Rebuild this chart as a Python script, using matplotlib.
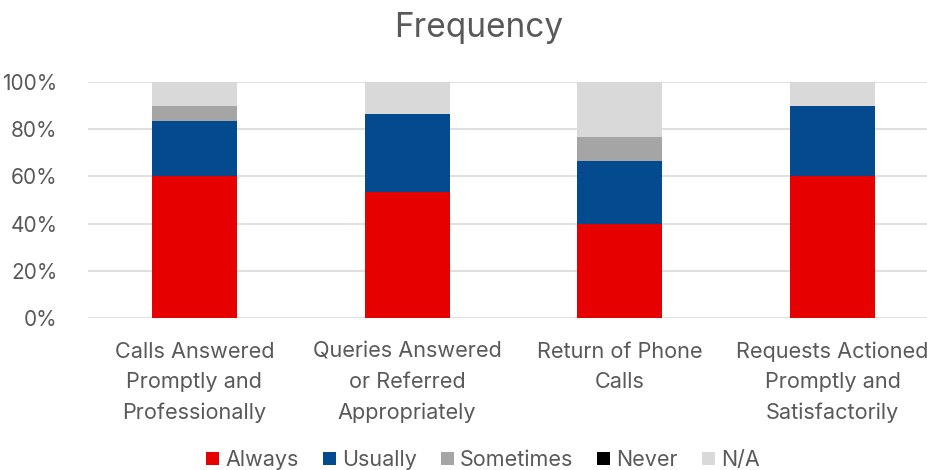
import numpy as np
import matplotlib.pyplot as plt
from matplotlib.ticker import PercentFormatter

plt.rcParams['font.family'] = ['Inter', 'DejaVu Sans']

categories = ["Calls Answered\nPromptly and\nProfessionally",
              "Queries Answered\nor Referred\nAppropriately",
              "Return of Phone\nCalls",
              "Requests Actioned\nPromptly and\nSatisfactorily"]
always = [60.0, 53.3, 40.0, 60.0]
usually = [23.3, 33.3, 26.7, 30.0]
sometimes = [6.7, 0.0, 10.0, 0.0]
never = [0.0, 0.0, 0.0, 0.0]
not_applicable = [10.0, 13.3, 23.3, 10.0]

series = [("Always", always, "#E60000"),
          ("Usually", usually, "#044A8E"),
          ("Sometimes", sometimes, "#A5A5A5"),
          ("Never", never, "#000000"),
          ("N/A", not_applicable, "#D9D9D9")]

text_col = "#595959"

fig = plt.figure(figsize=(9.28, 4.7), dpi=100)
ax = fig.add_axes([88 / 928, 152 / 470, 851 / 928, 236 / 470])

x = np.arange(len(categories))
bottom = np.zeros(len(categories))
for name, vals, col in series:
    vals = np.array(vals)
    ax.bar(x, vals, 0.4, bottom=bottom, color=col, label=name, zorder=3)
    bottom += vals

ax.set_xlim(-0.5, len(categories) - 0.5)
ax.set_ylim(0, 100)
ax.set_yticks(np.arange(0, 101, 20))
ax.yaxis.set_major_formatter(PercentFormatter(decimals=0))
ax.grid(axis='y', color="#D9D9D9", linewidth=1.2, zorder=0)
for s in ax.spines.values():
    s.set_visible(False)
ax.tick_params(axis='both', length=0, colors=text_col)
ax.tick_params(axis='y', pad=22, labelsize=15)
ax.tick_params(axis='x', pad=17, labelsize=15.6)
ax.set_xticks(x)
ax.set_xticklabels(categories, linespacing=1.63)

fig.text(479 / 928, 1 - 28 / 470, "Frequency", ha='center', va='center',
         fontsize=24, color=text_col)

handles, labels = ax.get_legend_handles_labels()
fig.legend(handles, labels, loc='center', bbox_to_anchor=(483 / 928, 1 - 460 / 470),
           ncol=5, frameon=False, fontsize=15.5, labelcolor=text_col,
           handlelength=0.6, handleheight=0.6, handletextpad=0.3, columnspacing=1.1)

fig.savefig("out.png", dpi=100)
